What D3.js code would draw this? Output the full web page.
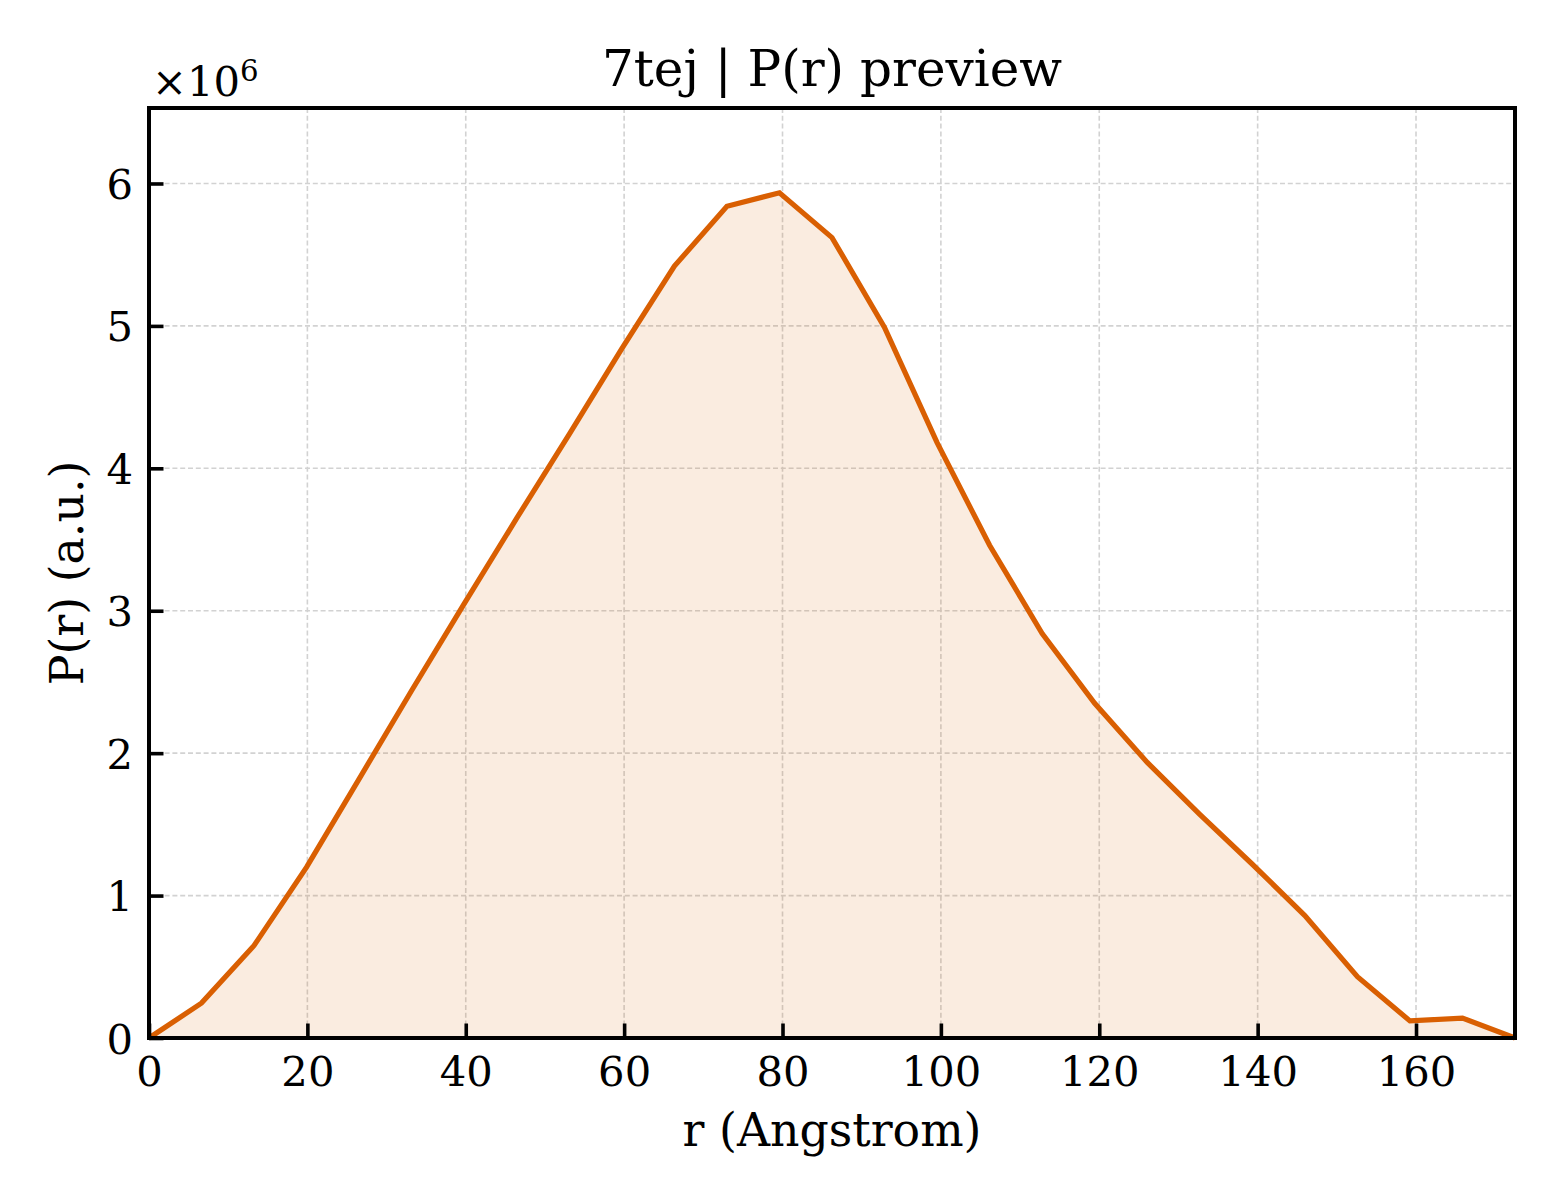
<!DOCTYPE html>
<html>
<head>
<meta charset="utf-8">
<script src="https://cdn.jsdelivr.net/npm/d3@7"></script>
<style>
  html, body { margin: 0; padding: 0; background: #ffffff; }
  svg text { font-family: "DejaVu Serif", serif; fill: #000; }
</style>
</head>
<body>
<svg id="chart" width="1560" height="1200"></svg>
<script>
// ---- data ----
const rValues = [0, 6.63, 13.27, 19.9, 26.54, 33.17, 39.81, 46.44, 53.08, 59.71, 66.35, 72.98, 79.62,
  86.25, 92.88, 99.52, 106.15, 112.79, 119.42, 126.06, 132.69, 139.33, 145.96, 152.6, 159.23, 165.87, 172.5];
const prValues = [0, 0.245, 0.65, 1.20, 1.82, 2.44, 3.05, 3.65, 4.24, 4.84, 5.42, 5.84, 5.935,
  5.62, 4.99, 4.18, 3.46, 2.84, 2.35, 1.935, 1.57, 1.22, 0.86, 0.43, 0.12, 0.14, 0];
const xTicks = [0, 20, 40, 60, 80, 100, 120, 140, 160];
const yTicks = [0, 1, 2, 3, 4, 5, 6];
const titleText = "7tej | P(r) preview";
const xLabelText = "r (Angstrom)";
const yLabelText = "P(r) (a.u.)";

const data = rValues.map((r, i) => ({ r, p: prValues[i] }));

const svg = d3.select("#chart");
const M = { left: 149, right: 1515, top: 108, bottom: 1038 };
const lineColor = "#d95f02";

const x = d3.scaleLinear().domain([0, 172.5]).range([M.left, M.right]);
const y = d3.scaleLinear().domain([0, 6.53]).range([M.bottom, M.top]);

// grid
const grid = svg.append("g");
grid.selectAll("line.gx").data(xTicks).join("line")
  .attr("x1", d => x(d)).attr("x2", d => x(d))
  .attr("y1", M.top).attr("y2", M.bottom)
  .attr("stroke", "#d2d2d2").attr("stroke-width", 1.6).attr("stroke-dasharray", "5,2.8");
grid.selectAll("line.gy").data(yTicks).join("line")
  .attr("x1", M.left).attr("x2", M.right)
  .attr("y1", d => y(d)).attr("y2", d => y(d))
  .attr("stroke", "#d2d2d2").attr("stroke-width", 1.6).attr("stroke-dasharray", "5,2.8");

// area + line
const area = d3.area().x(d => x(d.r)).y0(y(0)).y1(d => y(d.p));
svg.append("path").datum(data).attr("d", area)
  .attr("fill", lineColor).attr("fill-opacity", 0.12);
const line = d3.line().x(d => x(d.r)).y(d => y(d.p));
svg.append("path").datum(data).attr("d", line)
  .attr("fill", "none").attr("stroke", lineColor).attr("stroke-width", 5.2)
  .attr("stroke-linejoin", "miter");

// axes (ticks inside)
const tickFont = 41.7;
const xAxis = d3.axisBottom(x).tickValues(xTicks).tickSize(-14.5).tickPadding(18).tickFormat(d3.format("d"));
const gx = svg.append("g").attr("transform", `translate(0,${M.bottom})`).call(xAxis);
const yAxis = d3.axisLeft(y).tickValues(yTicks).tickSize(-14.5).tickPadding(16).tickFormat(d3.format("d"));
const gy = svg.append("g").attr("transform", `translate(${M.left},0)`).call(yAxis);
[gx, gy].forEach(g => {
  g.select(".domain").remove();
  g.selectAll(".tick line").attr("stroke", "#000").attr("stroke-width", 3.6);
  g.selectAll(".tick text").attr("font-size", tickFont).attr("font-family", "DejaVu Serif").attr("fill", "#000");
});
gy.selectAll(".tick text").attr("dy", "0.36em");

// frame
svg.append("rect").attr("x", M.left).attr("y", M.top)
  .attr("width", M.right - M.left).attr("height", M.bottom - M.top)
  .attr("fill", "none").attr("stroke", "#000").attr("stroke-width", 4);

// offset text
const off = svg.append("text").attr("x", 152).attr("y", 96).attr("font-size", tickFont);
off.append("tspan").text("×10");
off.append("tspan").attr("font-size", tickFont * 0.7).attr("dy", -15).text("6");

// title and labels
svg.append("text").attr("x", (M.left + M.right) / 2).attr("y", 86)
  .attr("text-anchor", "middle").attr("font-size", 50).text(titleText);
svg.append("text").attr("x", (M.left + M.right) / 2).attr("y", 1146)
  .attr("text-anchor", "middle").attr("font-size", 45.8).text(xLabelText);
svg.append("text").attr("transform", `translate(83,${(M.top + M.bottom) / 2}) rotate(-90)`)
  .attr("text-anchor", "middle").attr("font-size", 45.8).text(yLabelText);
</script>
</body>
</html>
